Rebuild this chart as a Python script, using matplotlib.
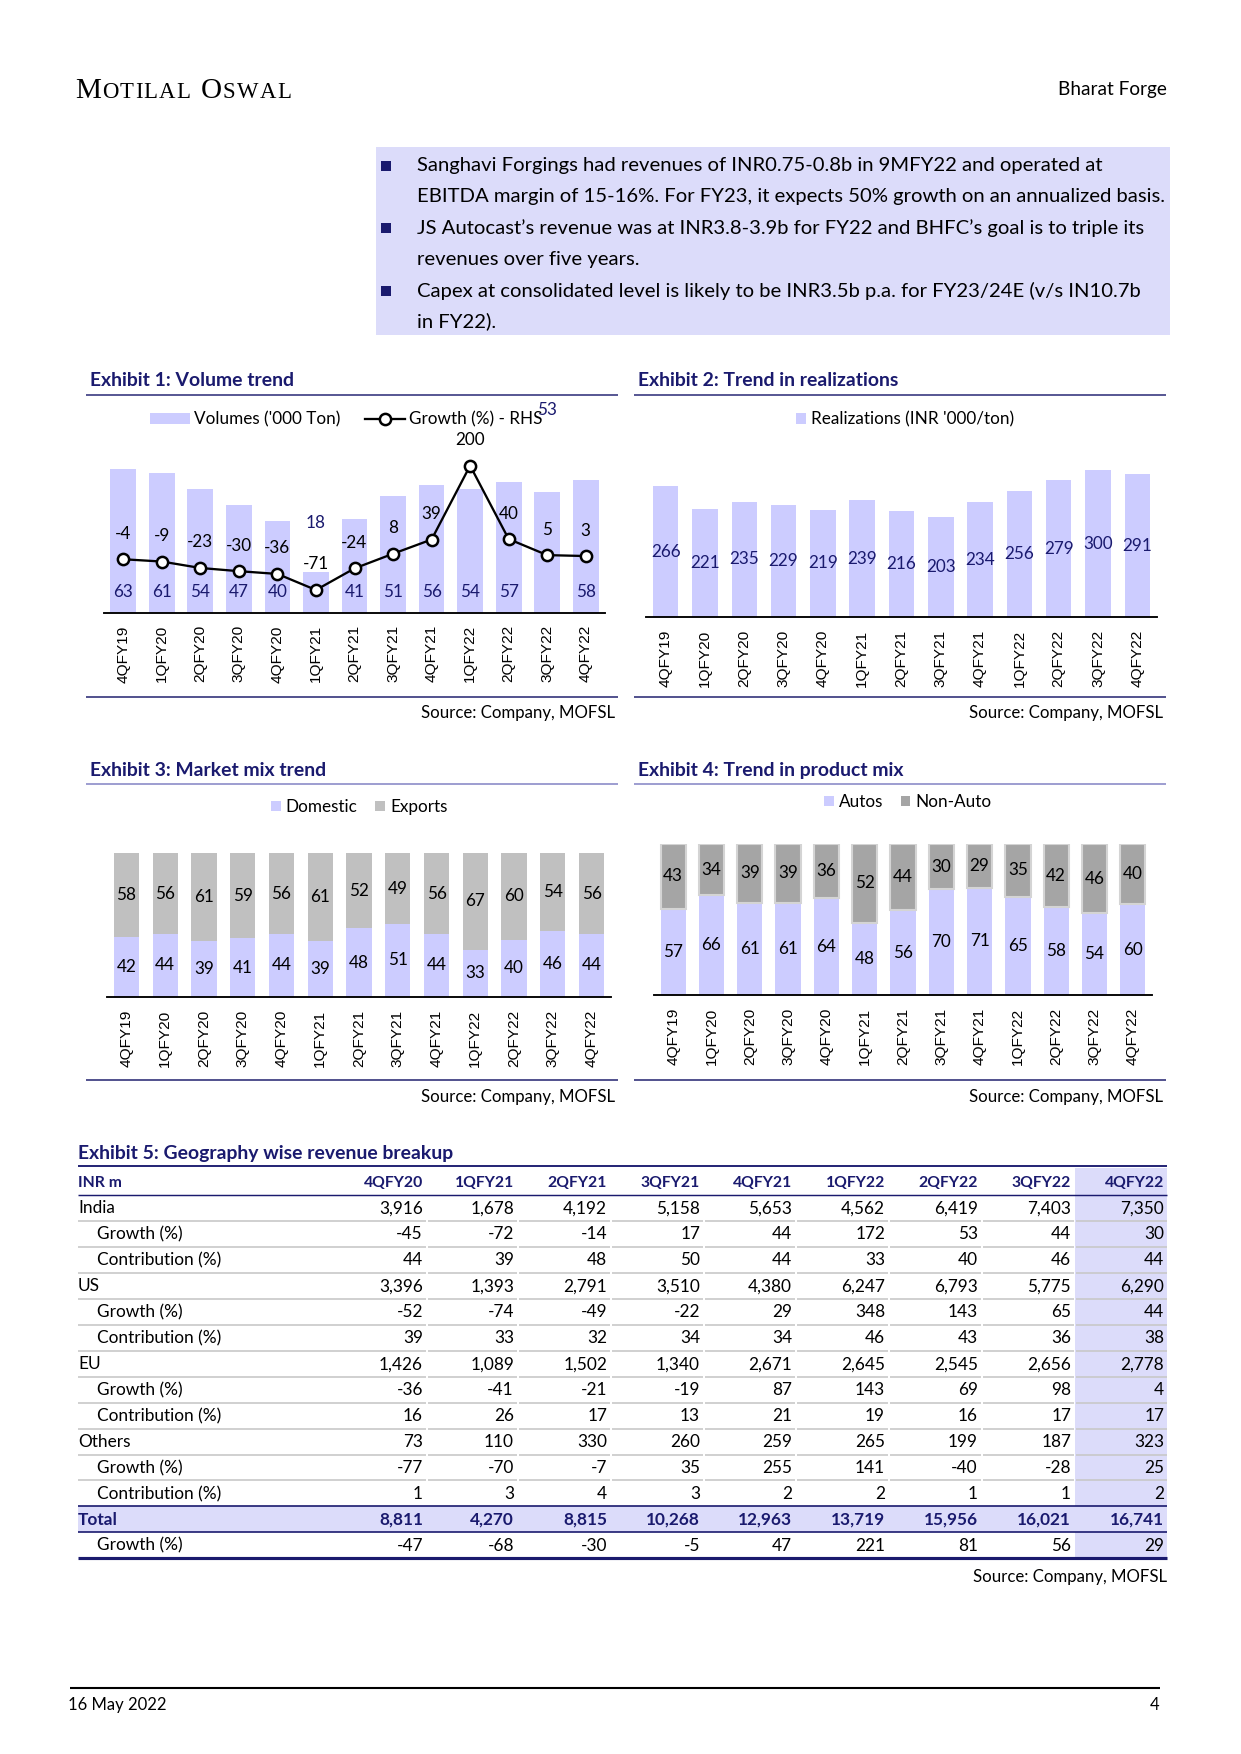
import numpy as np
import matplotlib
matplotlib.use('Agg')
import matplotlib.pyplot as plt
from matplotlib.lines import Line2D
from matplotlib.patches import Rectangle, Patch

# --- Data ---

quarters = ['4QFY19', '1QFY20', '2QFY20', '3QFY20', '4QFY20', '1QFY21', '2QFY21',
            '3QFY21', '4QFY21', '1QFY22', '2QFY22', '3QFY22', '4QFY22']
volumes = [63, 61, 54, 47, 40, 18, 41, 51, 56, 54, 57, 53, 58]
volume_growth = [-4, -9, -23, -30, -36, -71, -24, 8, 39, 200, 40, 5, 3]
realizations = [266, 221, 235, 229, 219, 239, 216, 203, 234, 256, 279, 300, 291]
domestic = [42, 44, 39, 41, 44, 39, 48, 51, 44, 33, 40, 46, 44]
exports = [58, 56, 61, 59, 56, 61, 52, 49, 56, 67, 60, 54, 56]
autos = [57, 66, 61, 61, 64, 48, 56, 70, 71, 65, 58, 54, 60]
non_auto = [43, 34, 39, 39, 36, 52, 44, 30, 29, 35, 42, 46, 40]

table_cols = ['4QFY20', '1QFY21', '2QFY21', '3QFY21', '4QFY21', '1QFY22', '2QFY22', '3QFY22', '4QFY22']
india = [3916, 1678, 4192, 5158, 5653, 4562, 6419, 7403, 7350]
india_growth = [-45, -72, -14, 17, 44, 172, 53, 44, 30]
india_contrib = [44, 39, 48, 50, 44, 33, 40, 46, 44]
us = [3396, 1393, 2791, 3510, 4380, 6247, 6793, 5775, 6290]
us_growth = [-52, -74, -49, -22, 29, 348, 143, 65, 44]
us_contrib = [39, 33, 32, 34, 34, 46, 43, 36, 38]
eu = [1426, 1089, 1502, 1340, 2671, 2645, 2545, 2656, 2778]
eu_growth = [-36, -41, -21, -19, 87, 143, 69, 98, 4]
eu_contrib = [16, 26, 17, 13, 21, 19, 16, 17, 17]
others = [73, 110, 330, 260, 259, 265, 199, 187, 323]
others_growth = [-77, -70, -7, 35, 255, 141, -40, -28, 25]
others_contrib = [1, 3, 4, 3, 2, 2, 1, 1, 2]
total = [8811, 4270, 8815, 10268, 12963, 13719, 15956, 16021, 16741]
total_growth = [-47, -68, -30, -5, 47, 221, 81, 56, 29]

bullet_lines = [
    'Sanghavi Forgings had revenues of INR0.75-0.8b in 9MFY22 and operated at',
    'EBITDA margin of 15-16%. For FY23, it expects 50% growth on an annualized basis.',
    'JS Autocast\u2019s revenue was at INR3.8-3.9b for FY22 and BHFC\u2019s goal is to triple its',
    'revenues over five years.',
    'Capex at consolidated level is likely to be INR3.5b p.a. for FY23/24E (v/s IN10.7b',
    'in FY22).',
]

# --- Styles ---

FONT = 'Lato'
TICK_FONT = 'Liberation Sans'
SERIF = 'Liberation Serif'
NAVY = '#1A1A6E'
LAV = '#CCCCFF'
BOX = '#DCDCFA'
GRAY_EXP = '#C0C0C0'
GRAY_NA = '#A5A5A5'
ROWLINE = '#C8C8C8'

plt.rcParams['font.family'] = FONT

W, H, DPI = 1241, 1754, 150
fig = plt.figure(figsize=(W / DPI, H / DPI), dpi=DPI)
renderer = fig.canvas.get_renderer()


def fx(x):
    return x / W


def fy(y):
    return 1 - y / H


def rect(x0, y0, x1, y1):
    return [x0 / W, 1 - y1 / H, (x1 - x0) / W, (y1 - y0) / H]


def pt(px):
    return px * 72 / DPI


def fit_size(s, width_px, **kw):
    """Font size that makes string s about width_px wide."""
    t = fig.text(0, 0, s, fontsize=10, **kw)
    w = t.get_window_extent(renderer).width
    t.remove()
    return 10 * width_px / w


def hline(x0, x1, y, color, lw):
    fig.add_artist(Line2D([fx(x0), fx(x1)], [fy(y), fy(y)], color=color, lw=lw,
                          solid_capstyle='butt'))


def box(x0, y0, x1, y1, color):
    fig.add_artist(Rectangle((fx(x0), fy(y1)), (x1 - x0) / W, (y1 - y0) / H,
                             transform=fig.transFigure, color=color, lw=0, zorder=0))


BODY = fit_size(bullet_lines[1], 748)
TITLE = fit_size('Exhibit 1: Volume trend', 205, weight='bold')
LEG = fit_size("Volumes ('000 Ton)", 147)
SRC = fit_size('Source: Company, MOFSL', 194)
LBL = fit_size('300', 30)
TBL = fit_size('Contribution (%)', 124)
TBLH = fit_size('4QFY20', 59, weight='bold')
HDR = fit_size('Bharat Forge', 109)
DATE = fit_size('16 May 2022', 99)
TICK = fit_size('4QFY19', 57.5, family=TICK_FONT)

# --- Page header ---

x = 75
for piece, size in [('M', 14), ('OTILAL', 10.9), ('O', 14), ('SWAL', 10.9)]:
    if piece == 'O' and size == 14:
        x += 9
    for ch in piece:
        t = fig.text(fx(x), fy(98), ch, fontsize=size, family=SERIF, va='baseline')
        x += t.get_window_extent(renderer).width + 1.2
fig.text(fx(1167), fy(89), 'Bharat Forge', fontsize=HDR, ha='right', va='center')

# --- Bullet box ---

box(376, 147, 1170, 335, BOX)
line_y = [165.7, 196.7, 227.9, 259.3, 290.7, 321.7]
for i, (txt, y) in enumerate(zip(bullet_lines, line_y)):
    fig.text(fx(417), fy(y), txt, fontsize=BODY, va='center')
    if i % 2 == 0:
        fig.add_artist(Rectangle((fx(381), fy(y + 5)), 10 / W, 10 / H,
                                 transform=fig.transFigure, color=NAVY, lw=0))


# --- Chart helpers ---

def style_axis(ax):
    for side in ['top', 'right', 'left']:
        ax.spines[side].set_visible(False)
    ax.spines['bottom'].set_linewidth(0.9)
    ax.set_yticks([])
    ax.set_xticks(range(len(quarters)))
    ax.set_xticklabels(quarters, rotation=90, fontsize=TICK, family=TICK_FONT)
    ax.tick_params(axis='x', length=0, pad=6)
    ax.set_xlim(-0.5, len(quarters) - 0.5)
    ax.patch.set_visible(False)


def frame(x0, x1, title, y_title, y_rule, y_bottom, y_src, rule_color):
    fig.text(fx(x0 + 4), fy(y_title), title, fontsize=TITLE, weight='bold',
             color=NAVY, va='center')
    hline(x0, x1, y_rule, rule_color, 0.8)
    hline(x0, x1, y_bottom, '#34347A', 0.8)
    fig.text(fx(x1 - 3), fy(y_src), 'Source: Company, MOFSL', fontsize=SRC,
             ha='right', va='center')


def legend(handles, labels, x, y, hlen, hh, pad, colsp):
    em = LEG * DPI / 72
    fig.legend(handles, labels, loc='center left', bbox_to_anchor=(fx(x), fy(y)),
               ncol=len(handles), frameon=False, prop={'family': FONT, 'size': LEG},
               handlelength=hlen / em, handleheight=hh / em, handletextpad=pad / em,
               columnspacing=colsp / em, borderpad=0, borderaxespad=0)


xs = np.arange(len(quarters))

# --- Exhibit 1: Volume trend ---

frame(86, 618, 'Exhibit 1: Volume trend', 380.7, 395, 696.7, 713, '#3A3A80')
ax1 = fig.add_axes(rect(104, 441.2, 605, 612.7))
ax1.bar(xs, volumes, width=0.67, color=LAV)
ax1.set_ylim(0, 75)
style_axis(ax1)
ax1b = ax1.twinx()
ax1b.plot(xs, volume_growth, color='black', lw=1.1, marker='o', ms=5.4,
          mfc='white', mec='black', mew=1.2)
ax1b.set_ylim(-120.5, 253.3)
ax1b.set_axis_off()

# the 1QFY21 and 3QFY22 volume labels sit high up in the original
volume_label_px = {5: 89.4, 11: 203}
for i, v in enumerate(volumes):
    ax1.annotate(str(v), (i, 0), xytext=(0, pt(volume_label_px.get(i, 20.3))),
                 textcoords='offset points', ha='center', va='center',
                 color=NAVY, fontsize=LBL, annotation_clip=False)
for i, g in enumerate(volume_growth):
    ax1b.annotate(str(g), (i, g), xytext=(0, pt(25.5)), textcoords='offset points',
                  ha='center', va='center', color='black', fontsize=LBL,
                  annotation_clip=False)

legend([Patch(facecolor=LAV),
        Line2D([], [], color='black', lw=1.1, marker='o', ms=5.4, mfc='white',
               mec='black', mew=1.2)],
       ["Volumes ('000 Ton)", 'Growth (%) - RHS'], 150, 419.3, 40, 10, 4.5, 24)

# --- Exhibit 2: Trend in realizations ---

frame(634, 1166, 'Exhibit 2: Trend in realizations', 380.7, 395, 696.7, 713, '#3A3A80')
ax2 = fig.add_axes(rect(646, 445.1, 1157, 617.3))
ax2.bar(xs, realizations, width=0.646, color=LAV)
ax2.set_ylim(0, 350)
style_axis(ax2)
for i, v in enumerate(realizations):
    ax2.text(i, v / 2, str(v), ha='center', va='center', color=NAVY, fontsize=LBL)
legend([Patch(facecolor=LAV)], ["Realizations (INR '000/ton)"], 796, 419.3, 10, 10, 5, 0)

# --- Exhibit 3: Market mix trend ---

frame(86, 618, 'Exhibit 3: Market mix trend', 770.7, 784.3, 1080, 1096.7, '#8C8CC8')
ax3 = fig.add_axes(rect(107, 853.3, 611, 997))
ax3.bar(xs, domestic, width=0.65, color=LAV)
ax3.bar(xs, exports, width=0.65, bottom=domestic, color=GRAY_EXP)
ax3.set_ylim(0, 100)
style_axis(ax3)
for i, (d, e) in enumerate(zip(domestic, exports)):
    ax3.text(i, d / 2, str(d), ha='center', va='center', fontsize=LBL)
    ax3.text(i, d + e / 2, str(e), ha='center', va='center', fontsize=LBL)
legend([Patch(facecolor=LAV), Patch(facecolor=GRAY_EXP)], ['Domestic', 'Exports'],
       271, 807.3, 9.5, 9.5, 5, 18)

# --- Exhibit 4: Trend in product mix ---

frame(634, 1166, 'Exhibit 4: Trend in product mix', 770.7, 784.3, 1080, 1096.7, '#8C8CC8')
ax4 = fig.add_axes(rect(654, 844, 1152, 995))
ax4.bar(xs, autos, width=0.66, color=LAV)
ax4.bar(xs, non_auto, width=0.66, bottom=autos, color=GRAY_NA, edgecolor='#D4D4D4', lw=1)
ax4.set_ylim(0, 100)
style_axis(ax4)
for i, (a, n) in enumerate(zip(autos, non_auto)):
    ax4.text(i, a / 2, str(a), ha='center', va='center', fontsize=LBL)
    ax4.text(i, a + n / 2, str(n), ha='center', va='center', fontsize=LBL)
legend([Patch(facecolor=LAV), Patch(facecolor=GRAY_NA)], ['Autos', 'Non-Auto'],
       824, 802.3, 9.5, 9.5, 5, 18)

# --- Exhibit 5: Geography wise revenue breakup ---

rows = [
    ('India', india, 0), ('Growth (%)', india_growth, 1), ('Contribution (%)', india_contrib, 1),
    ('US', us, 0), ('Growth (%)', us_growth, 1), ('Contribution (%)', us_contrib, 1),
    ('EU', eu, 0), ('Growth (%)', eu_growth, 1), ('Contribution (%)', eu_contrib, 1),
    ('Others', others, 0), ('Growth (%)', others_growth, 1), ('Contribution (%)', others_contrib, 1),
    ('Total', total, 2), ('Growth (%)', total_growth, 1),
]
TX0, TX1 = 78, 1167
col_right = [423, 514, 607, 700, 792, 885, 978, 1071, 1164]
row_h = 25.95
head_top, head_bot = 1168, 1195

fig.text(fx(TX0), fy(1154), 'Exhibit 5: Geography wise revenue breakup', fontsize=TITLE,
         weight='bold', color=NAVY, va='center')
box(col_right[-2] + 4, head_top, TX1, head_bot + row_h * len(rows), BOX)
box(TX0, head_bot + row_h * 12, TX1, head_bot + row_h * 13, BOX)
hline(TX0, TX1, 1166, NAVY, 0.9)
hline(TX0, TX1, head_bot, NAVY, 0.7)

fig.text(fx(TX0), fy(1183.3), 'INR m', fontsize=TBLH, weight='bold', color=NAVY, va='center')
for c, r in zip(table_cols, col_right):
    fig.text(fx(r), fy(1183.3), c, fontsize=TBLH, weight='bold', color=NAVY,
             ha='right', va='center')

seg_edges = [TX0] + [r + 4 for r in col_right[:-1]] + [TX1]
for k, (label, vals, kind) in enumerate(rows):
    yc = head_bot + row_h * (k + 0.5) + 0.5
    bold = kind == 2
    color = NAVY if bold else 'black'
    fig.text(fx(TX0 + (19 if kind == 1 else 0)), fy(yc), label, fontsize=TBL,
             weight='bold' if bold else 'normal', color=color, va='center')
    for v, r in zip(vals, col_right):
        fig.text(fx(r), fy(yc), f'{v:,}', fontsize=TBL, weight='bold' if bold else 'normal',
                 color=color, ha='right', va='center')
    yb = head_bot + row_h * (k + 1)
    if k == len(rows) - 1:
        hline(TX0, TX1, yb, NAVY, 1.5)
    elif k in (11, 12):
        hline(TX0, TX1, yb, NAVY, 0.8)
    else:
        for a, b in zip(seg_edges[:-1], seg_edges[1:]):
            hline(a + (1 if a > TX0 else 0), b - (1 if b < TX1 else 0), yb, ROWLINE, 0.8)

fig.text(fx(TX1), fy(1577), 'Source: Company, MOFSL', fontsize=SRC, ha='right', va='center')

# --- Footer ---

hline(70, 1160, 1688, 'black', 1.0)
fig.text(fx(68), fy(1705), '16 May 2022', fontsize=DATE, va='center')
fig.text(fx(1159), fy(1705), '4', fontsize=DATE, ha='right', va='center')

fig.savefig('out.png', dpi=DPI)
plt.close(fig)
